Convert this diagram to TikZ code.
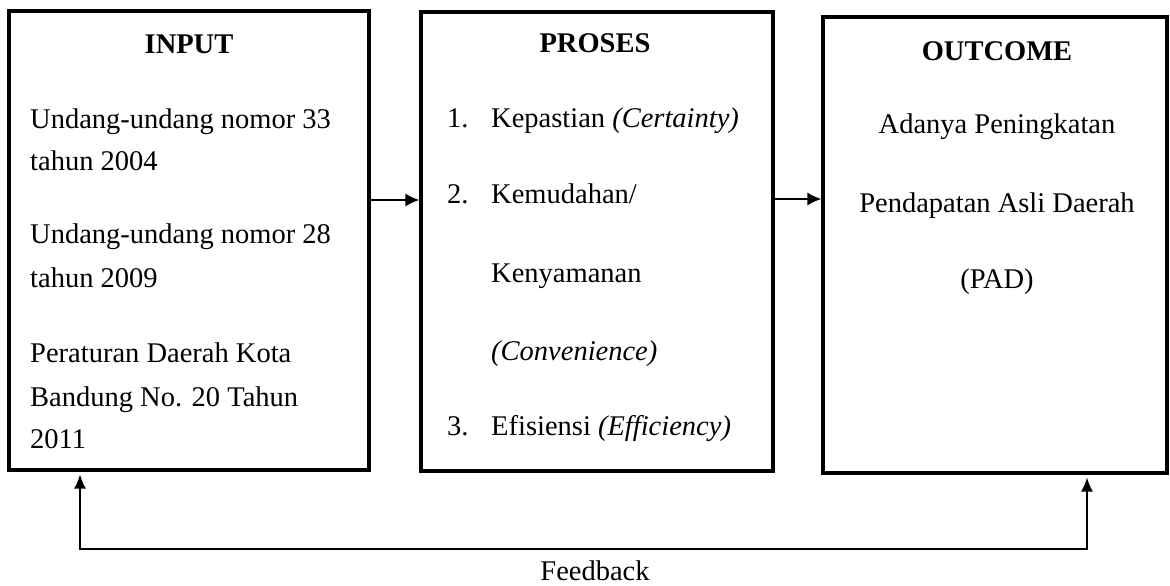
\documentclass[tikz,border=0pt]{standalone}
\usepackage{fontspec}
\setmainfont{Liberation Serif}
\usetikzlibrary{arrows.meta}
\begin{document}
\begin{tikzpicture}[x=1pt,y=-1pt,
  box/.style={draw=black, line width=3.2pt, inner sep=0pt, fill=none},
  txt/.style={anchor=base west, inner sep=0pt, font=\fontsize{28.5}{34}\selectfont},
  ctxt/.style={anchor=base, inner sep=0pt, font=\fontsize{28.5}{34}\selectfont},
  head/.style={anchor=base, inner sep=0pt, font=\fontsize{28.5}{34}\selectfont\bfseries},
  arr/.style={line width=1.6pt, -{Latex[length=14pt,width=13pt]}},
  fbline/.style={line width=1.5pt, {Latex[length=14pt,width=12pt]}-{Latex[length=14pt,width=12pt]}, shorten <=3pt, shorten >=3pt}]
\useasboundingbox (0,0) rectangle (1170,586);
\fill[white] (0,0) rectangle (1170,586);
% boxes
\node[box, minimum width=360pt, minimum height=459pt] (input) at (189,240.5) {};
\node[box, minimum width=352pt, minimum height=459pt] (proses) at (597,241.5) {};
\node[box, minimum width=344pt, minimum height=456pt] (outcome) at (995,245) {};
% input texts
\node[head] (ih) at (189,54) {INPUT};
\node[txt] (i1) at (30,128) {Undang-undang nomor 33};
\node[txt] (i2) at (30,170) {tahun 2004};
\node[txt] (i3) at (30,243) {Undang-undang nomor 28};
\node[txt] (i4) at (30,287) {tahun 2009};
\node[txt] (i5) at (30,362) {Peraturan Daerah Kota};
\node[txt] (i6) at (30,406) {Bandung No. 20 Tahun};
\node[txt] (i7) at (30,448) {2011};
% proses texts
\node[head] (ph) at (595,53) {PROSES};
\node[txt] (p1n) at (447,127) {1.};
\node[txt] (p1) at (491,127) {Kepastian \textit{(Certainty)}};
\node[txt] (p2n) at (447,203) {2.};
\node[txt] (p2) at (491,203) {Kemudahan/};
\node[txt] (p2b) at (491,282) {Kenyamanan};
\node[txt] (p2c) at (491,360) {\textit{(Convenience)}};
\node[txt] (p3n) at (447,435) {3.};
\node[txt] (p3) at (491,435) {Efisiensi \textit{(Efficiency)}};
% outcome texts
\node[head] (oh) at (997,60) {OUTCOME};
\node[ctxt] (o1) at (997,133) {Adanya Peningkatan};
\node[ctxt] (o2) at (997,212) {Pendapatan Asli Daerah};
\node[ctxt] (o3) at (997,288) {(PAD)};
% connectors
\draw[arr] (input.east |- 0,200) -- (proses.west |- 0,200);
\draw[arr] (proses.east |- 0,199) -- (outcome.west |- 0,199);
\coordinate (fbL) at (80,549);
\coordinate (fbR) at (1087,549);
\draw[fbline] (fbL |- input.south) -- (fbL) -- (fbR) -- (fbR |- outcome.south);
\node[ctxt] (fb) at (595,580) {Feedback};
\end{tikzpicture}
\end{document}
